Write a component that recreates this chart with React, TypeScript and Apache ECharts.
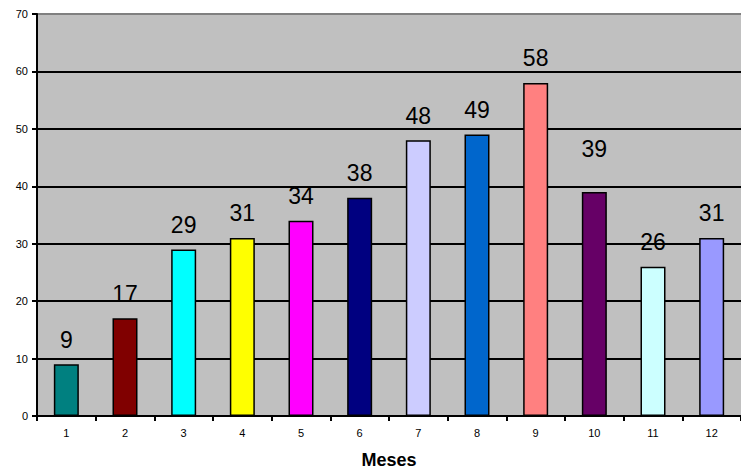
import React, { useEffect, useRef } from "react";
import * as echarts from "echarts";

const months = ["1", "2", "3", "4", "5", "6", "7", "8", "9", "10", "11", "12"];
const values = [9, 17, 29, 31, 34, 38, 48, 49, 58, 39, 26, 31];
const barColors = [
  "#008080", "#800000", "#00FFFF", "#FFFF00", "#FF00FF", "#000080",
  "#CCCCFF", "#0066CC", "#FF8080", "#660066", "#CCFFFF", "#9999FF",
];
const labelDistances = [13, 13, 13, 13, 13, 13, 13, 13, 13, 32, 13, 13];
const axisTitle = "Meses";

const FONT = "Arial, 'Liberation Sans', sans-serif";

export default function App() {
  const ref = useRef<HTMLDivElement>(null);
  useEffect(() => {
    if (!ref.current) return;
    const chart = echarts.init(ref.current, null, { renderer: "svg" });
    chart.setOption({
      animation: false,
      backgroundColor: "#ffffff",
      grid: {
        left: 37,
        right: -4,
        top: 14,
        bottom: 57,
        show: true,
        backgroundColor: "#C0C0C0",
        borderWidth: 0,
      },
      xAxis: {
        type: "category",
        data: months,
        name: axisTitle,
        nameLocation: "middle",
        nameGap: 35,
        nameTextStyle: { fontFamily: FONT, fontSize: 18, fontWeight: "bold", color: "#000" },
        axisLine: { lineStyle: { color: "#000", width: 2 } },
        axisTick: { show: true, alignWithLabel: false, length: 5, lineStyle: { color: "#000", width: 2 } },
        axisLabel: { fontFamily: FONT, fontSize: 11, color: "#000", margin: 11 },
        splitLine: { show: false },
      },
      yAxis: {
        type: "value",
        min: 0,
        max: 70,
        interval: 10,
        axisLine: { show: true, lineStyle: { color: "#000", width: 2 } },
        axisTick: { show: true, length: 5, lineStyle: { color: "#000", width: 2 } },
        axisLabel: { fontFamily: FONT, fontSize: 11, color: "#000", margin: 9 },
        splitLine: {
          show: true,
          lineStyle: {
            color: ["#000", "#000", "#000", "#000", "#000", "#000", "#000", "#808080"],
            width: 2,
          },
        },
      },
      series: [
        {
          type: "bar",
          barWidth: 25,
          data: values.map((v, i) => ({
            value: v,
            itemStyle: { color: barColors[i] },
            label: { distance: labelDistances[i] },
          })),
          itemStyle: { borderColor: "#000", borderWidth: 1.5 },
          label: {
            show: true,
            position: "top",
            fontFamily: FONT,
            fontSize: 23,
            color: "#000",
          },
        },
      ],
    });
    return () => chart.dispose();
  }, []);
  return (
    <div
      ref={ref}
      style={{ position: "fixed", left: 0, top: 0, width: 741, height: 474 }}
    />
  );
}
